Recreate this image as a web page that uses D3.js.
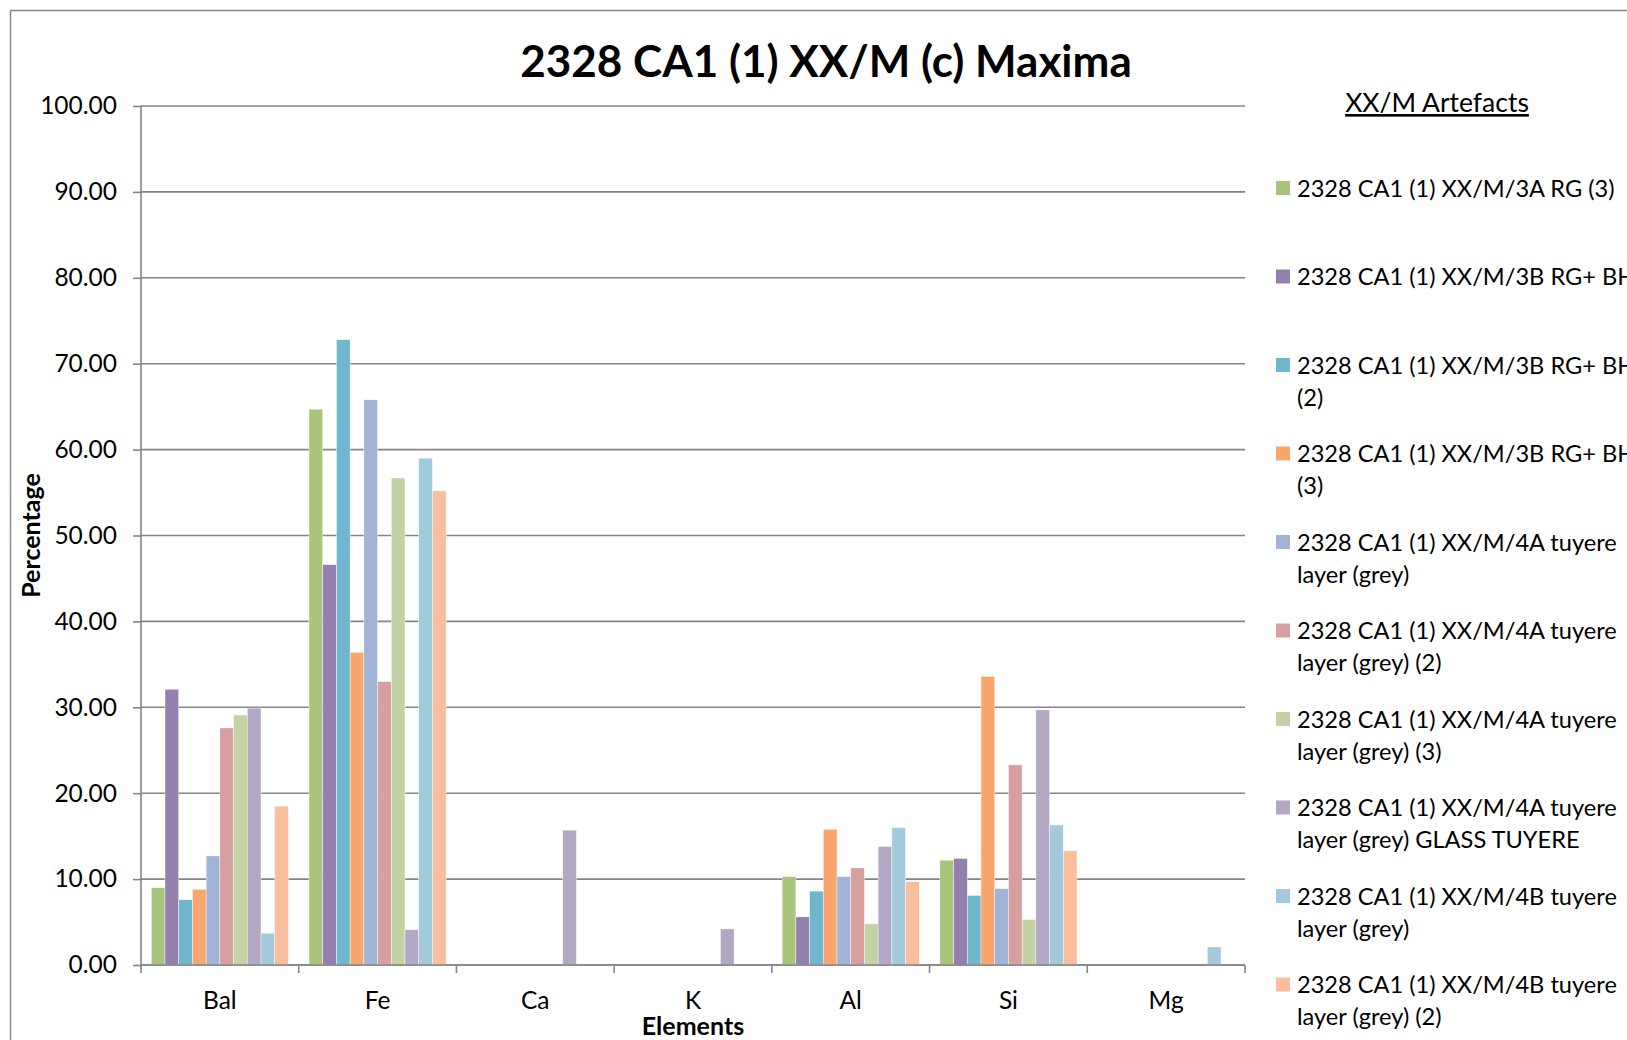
<!DOCTYPE html>
<html>
<head>
<meta charset="utf-8">
<script src="https://cdn.jsdelivr.net/npm/d3@7"></script>
<style>
html, body { margin: 0; padding: 0; background: #fff; overflow: hidden; }
text { font-family: Lato, "Open Sans", sans-serif; fill: #000; }
</style>
</head>
<body>
<svg id="chart" width="1627" height="1040"></svg>
<script>
// categories and tick labels
const elements = ["Bal", "Fe", "Ca", "K", "Al", "Si", "Mg"];
const yTicks = [0, 10, 20, 30, 40, 50, 60, 70, 80, 90, 100];

// legend labels (as wrapped in the legend)
const seriesNames = [
  ["2328 CA1 (1) XX/M/3A RG (3)"],
  ["2328 CA1 (1) XX/M/3B RG+ BH"],
  ["2328 CA1 (1) XX/M/3B RG+ BH", "(2)"],
  ["2328 CA1 (1) XX/M/3B RG+ BH", "(3)"],
  ["2328 CA1 (1) XX/M/4A tuyere", "layer (grey)"],
  ["2328 CA1 (1) XX/M/4A tuyere", "layer (grey) (2)"],
  ["2328 CA1 (1) XX/M/4A tuyere", "layer (grey) (3)"],
  ["2328 CA1 (1) XX/M/4A tuyere", "layer (grey) GLASS TUYERE"],
  ["2328 CA1 (1) XX/M/4B tuyere", "layer (grey)"],
  ["2328 CA1 (1) XX/M/4B tuyere", "layer (grey) (2)"]
];
const seriesColors = ["#a9c47b", "#9380ae", "#70b6cd", "#f8a56e", "#a1b4d5",
                      "#d6a0a0", "#c3d3a5", "#b2a8c4", "#a3cada", "#f8be9e"];

// values per series, in the order of elements
const s3A   = [9.0, 64.7, 0, 0, 10.3, 12.2, 0];
const s3B   = [32.1, 46.6, 0, 0, 5.6, 12.4, 0];
const s3B2  = [7.6, 72.8, 0, 0, 8.6, 8.1, 0];
const s3B3  = [8.8, 36.4, 0, 0, 15.8, 33.6, 0];
const s4A   = [12.7, 65.8, 0, 0, 10.3, 8.9, 0];
const s4A2  = [27.6, 33.0, 0, 0, 11.3, 23.3, 0];
const s4A3  = [29.1, 56.7, 0, 0, 4.8, 5.3, 0];
const s4AG  = [29.9, 4.1, 15.7, 4.2, 13.8, 29.7, 0];
const s4B   = [3.7, 59.0, 0, 0, 16.0, 16.3, 2.1];
const s4B2  = [18.5, 55.2, 0, 0, 9.7, 13.3, 0];
const seriesValues = [s3A, s3B, s3B2, s3B3, s4A, s4A2, s4A3, s4AG, s4B, s4B2];

const svg = d3.select("#chart");

// chart border
svg.append("rect")
  .attr("x", 10.5).attr("y", 10.5)
  .attr("width", 1700).attr("height", 1100)
  .attr("fill", "none").attr("stroke", "#8c8c8c").attr("stroke-width", 1.5);

const plotLeft = 141, plotRight = 1245, plotTop = 106, plotBottom = 965;
const gridColor = "#858585";

const x0 = d3.scaleBand().domain(elements).range([plotLeft, plotRight]);
const x1 = d3.scaleBand().domain(d3.range(seriesValues.length))
  .range([0, x0.bandwidth()]).paddingOuter(0.75);
const y = d3.scaleLinear().domain([0, 100]).range([plotBottom, plotTop]);

// gridlines + y axis
const yAxis = svg.append("g")
  .attr("transform", `translate(${plotLeft},0)`)
  .call(d3.axisLeft(y).tickValues(yTicks).tickFormat(d3.format(".2f"))
    .tickSize(8).tickPadding(16));
yAxis.select(".domain").remove();
yAxis.selectAll(".tick line").attr("stroke", gridColor).attr("stroke-width", 1.6);
yAxis.selectAll(".tick text").style("font-size", "24.5px");

svg.append("g").selectAll("line")
  .data(yTicks)
  .join("line")
  .attr("x1", plotLeft).attr("x2", plotRight)
  .attr("y1", d => y(d)).attr("y2", d => y(d))
  .attr("stroke", gridColor).attr("stroke-width", 1.6);

svg.append("line")
  .attr("x1", plotLeft).attr("x2", plotLeft)
  .attr("y1", plotTop).attr("y2", plotBottom)
  .attr("stroke", gridColor).attr("stroke-width", 1.6);

// bars
const groups = svg.append("g").selectAll("g")
  .data(elements)
  .join("g")
  .attr("transform", d => `translate(${x0(d)},0)`);

groups.selectAll("rect")
  .data((el, ei) => seriesValues.map((vals, si) => ({ si, v: vals[ei] })).filter(d => d.v > 0))
  .join("rect")
  .attr("x", d => x1(d.si))
  .attr("width", x1.bandwidth())
  .attr("y", d => y(d.v))
  .attr("height", d => y(0) - y(d.v))
  .attr("fill", d => seriesColors[d.si])
  .attr("stroke", "#fff").attr("stroke-width", 0.6).attr("stroke-opacity", 0.7);

// x axis: line, boundary ticks, labels
svg.append("line")
  .attr("x1", plotLeft).attr("x2", plotRight)
  .attr("y1", plotBottom).attr("y2", plotBottom)
  .attr("stroke", gridColor).attr("stroke-width", 1.6);

const bounds = elements.map(d => x0(d)).concat([x0.range()[1]]);
svg.append("g").selectAll("line")
  .data(bounds)
  .join("line")
  .attr("x1", d => d).attr("x2", d => d)
  .attr("y1", plotBottom).attr("y2", plotBottom + 8)
  .attr("stroke", gridColor).attr("stroke-width", 1.6);

svg.append("g").selectAll("text")
  .data(elements)
  .join("text")
  .attr("x", d => x0(d) + x0.bandwidth() / 2)
  .attr("y", 1009)
  .attr("text-anchor", "middle")
  .style("font-size", "24.5px")
  .text(d => d);

// titles
svg.append("text")
  .attr("x", 826).attr("y", 77)
  .attr("text-anchor", "middle")
  .style("font-size", "44px").style("font-weight", "bold")
  .text("2328 CA1 (1) XX/M (c) Maxima");

svg.append("text")
  .attr("x", (plotLeft + plotRight) / 2).attr("y", 1035)
  .attr("text-anchor", "middle")
  .style("font-size", "25px").style("font-weight", "bold")
  .text("Elements");

svg.append("text")
  .attr("transform", `translate(40,${(plotTop + plotBottom) / 2}) rotate(-90)`)
  .attr("text-anchor", "middle")
  .style("font-size", "25px").style("font-weight", "bold")
  .text("Percentage");

// legend
svg.append("text")
  .attr("x", 1437).attr("y", 112)
  .attr("text-anchor", "middle")
  .style("font-size", "26.5px")
  .style("text-decoration", "underline")
  .text("XX/M Artefacts");

const legend = svg.append("g").selectAll("g")
  .data(seriesNames)
  .join("g")
  .attr("transform", (d, i) => `translate(1276,${188 + i * 88.5})`);

legend.append("rect")
  .attr("x", 0).attr("y", -7)
  .attr("width", 14).attr("height", 14)
  .attr("fill", (d, i) => seriesColors[i]);

legend.selectAll("text")
  .data(d => d)
  .join("text")
  .attr("x", 21)
  .attr("y", (d, j) => 8.5 + j * 32)
  .style("font-size", "23.6px")
  .text(d => d);
</script>
</body>
</html>
